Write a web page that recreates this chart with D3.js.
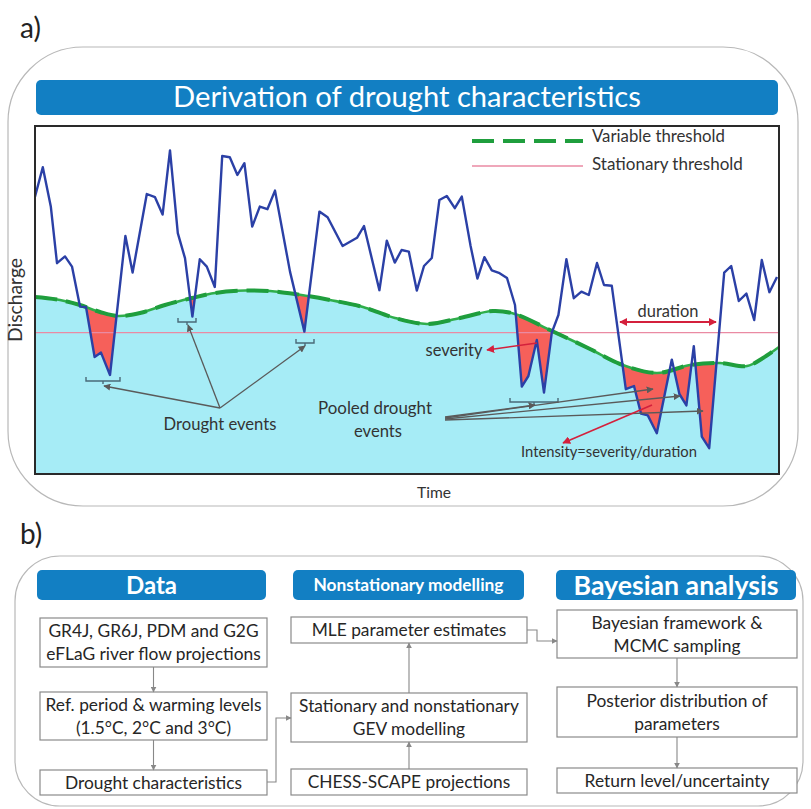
<!DOCTYPE html>
<html>
<head>
<meta charset="utf-8">
<script src="https://cdn.jsdelivr.net/npm/d3@7"></script>
<style>
  body { margin: 0; background: #fff; }
  svg { display: block; }
  text { font-family: Lato, "Open Sans", sans-serif; }
</style>
</head>
<body>
<svg id="fig" width="811" height="809"></svg>
<script>
// ---- Hydrograph (illustrative daily discharge) ----
const timeSteps = [0, 3.9, 7.9, 11, 15, 18.5, 22.5, 25.5, 29.8, 33, 37.5, 45.2, 48.8, 55.9, 60, 63.8, 67.5, 71.4, 75, 78.7,
  82.4, 85.9, 89.9, 93.6, 97.4, 101.2, 104.7, 108.6, 112.4, 116.2, 120, 127.5, 134.7, 142.2, 146.3, 153.8, 161, 164.5,
  172.2, 175.9, 179.9, 183.3, 186.9, 190.9, 194.5, 198.4, 202.2, 205.9, 209.9, 213.4, 217.8, 221.2, 224.7, 228.4, 232.3,
  236, 240, 243.4, 246.7, 250.9, 254.5, 258.4, 261.7, 265.7, 269.4, 273.2, 276.9, 281, 284.5, 288.4, 295.4, 299.5, 303,
  306.4, 310.9, 318.4, 322.2, 325.7, 329.4, 333.4, 337.1, 344.6, 348.1, 351.9, 355.7, 359.6, 363.4, 367.2, 371];
const discharge = [138.7, 153.4, 133.8, 105.4, 108.8, 103.7, 83.7, 83.5, 58.5, 60.7, 49.5, 119, 100.7, 140, 138.4, 129.7,
  161.8, 120.4, 107.9, 78.7, 107.4, 103.7, 93.5, 159, 158.4, 149.5, 155.4, 123.7, 133.7, 132.4, 141.7, 101.2, 71.2, 131.2,
  128.4, 114, 118.1, 124, 91.9, 116.7, 105.7, 112, 111.2, 91.7, 104, 108, 137, 139, 132.9, 138.7, 114, 97.7, 108.4, 101.8,
  100.4, 98, 84.5, 43.7, 49, 67, 40.7, 70.7, 79.5, 107.4, 87.9, 91.2, 89.5, 105.5, 94.5, 94.1, 42.4, 44, 30.2, 29.3, 20.4,
  57.2, 40, 34.3, 63.9, 18.7, 12.9, 100.7, 104, 86.5, 90.2, 77, 107, 90.9, 98.5];

// Seasonally varying threshold
const thresholdTime = [0, 12.5, 22.5, 32.5, 41.5, 52.5, 65, 78.5, 90, 105, 117.5, 130, 147.5, 164, 180, 196, 212.5,
  229, 240, 258.5, 277.5, 292.5, 311, 327.5, 342.5, 356, 364, 372];
const thresholdValue = [88.5, 87, 84.5, 81, 79, 80.5, 84.5, 88, 90.5, 91.75, 91.5, 90, 87, 83.5, 78, 75, 78,
  81.5, 80, 71.5, 62.5, 55, 50.5, 54.5, 55.5, 54, 58, 63.5];

// Fixed threshold
const stationaryThreshold = 70.7;

// Legend entries
const legendLabels = ["Variable threshold", "Stationary threshold"];

// ---- Workflow (panel b) ----
const columnTitles = ["Data", "Nonstationary modelling", "Bayesian analysis"];
const dataSteps = [["GR4J, GR6J, PDM and G2G", "eFLaG river flow projections"],
                   ["Ref. period & warming levels", "(1.5°C, 2°C and 3°C)"],
                   ["Drought characteristics"]];
const modellingSteps = [["MLE parameter estimates"],
                        ["Stationary and nonstationary", "GEV modelling"],
                        ["CHESS-SCAPE projections"]];
const bayesSteps = [["Bayesian framework &", "MCMC sampling"],
                    ["Posterior distribution of", "parameters"],
                    ["Return level/uncertainty"]];

const svg = d3.select("#fig");
const ink = "#333";
const gray = "#5a5a5a";
const red = "#d4203c";
const blueBar = "#127fc3";

// scale text so that it spans a given width
function fit(sel, w) {
  sel.each(function () {
    const len = this.getComputedTextLength();
    const fs = parseFloat(this.getAttribute("font-size"));
    if (len > 0) this.setAttribute("font-size", (fs * w / len).toFixed(2));
  });
  return sel;
}
function label(g, x, y, txt, size, w, opts = {}) {
  const t = g.append("text")
    .attr("x", x).attr("y", y)
    .attr("font-size", size)
    .attr("text-anchor", opts.anchor || "middle")
    .attr("fill", opts.fill || ink)
    .attr("font-weight", opts.weight || "normal")
    .text(txt);
  if (opts.rotate) t.attr("transform", `rotate(${opts.rotate},${x},${y})`);
  if (w) fit(t, w);
  return t;
}

function draw() {
  svg.selectAll("*").remove();

  // markers
  const defs = svg.append("defs");
  function marker(id, color, size) {
    defs.append("marker").attr("id", id)
      .attr("viewBox", "0 0 10 10").attr("refX", 9).attr("refY", 5)
      .attr("markerWidth", size).attr("markerHeight", size)
      .attr("markerUnits", "userSpaceOnUse")
      .attr("orient", "auto-start-reverse")
      .append("path").attr("d", "M0,0 L10,5 L0,10 z").attr("fill", color);
  }
  marker("arrGray", gray, 7);
  marker("arrRed", red, 8);
  marker("arrFlow", "#888", 6);

  // ---------- panel labels and frames ----------
  label(svg, 20, 38, "a)", 28, null, { anchor: "start", fill: "#222" });
  label(svg, 20, 544, "b)", 28, null, { anchor: "start", fill: "#222" });

  svg.append("rect").attr("x", 8).attr("y", 47).attr("width", 790).attr("height", 459)
    .attr("rx", 75).attr("ry", 75).attr("fill", "none").attr("stroke", "#b8b8b8").attr("stroke-width", 1.2);
  svg.append("rect").attr("x", 15).attr("y", 556).attr("width", 788).attr("height", 250)
    .attr("rx", 45).attr("ry", 45).attr("fill", "none").attr("stroke", "#b8b8b8").attr("stroke-width", 1.2);

  // title bar
  svg.append("rect").attr("x", 36).attr("y", 80).attr("width", 742).attr("height", 35)
    .attr("rx", 5).attr("fill", blueBar);
  label(svg, 407, 107, "Derivation of drought characteristics", 28, 468, { fill: "#fff" });

  // ---------- hydrograph ----------
  const x = d3.scaleLinear().domain([0, 372]).range([35, 779]);
  const y = d3.scaleLinear().domain([0, 174]).range([474, 126]);

  const flow = timeSteps.map((t, i) => ({ t, q: discharge[i] }));
  const thr = thresholdTime.map((t, i) => ({ t, q: thresholdValue[i] }));

  const plot = svg.append("g");
  defs.append("clipPath").attr("id", "plotClip")
    .append("rect").attr("x", x(0)).attr("y", y(174)).attr("width", x(372) - x(0)).attr("height", y(0) - y(174));
  const inner = plot.append("g").attr("clip-path", "url(#plotClip)");

  const belowThr = d3.area().x(d => x(d.t)).y0(y(0)).y1(d => y(d.q)).curve(d3.curveCatmullRom);
  defs.append("clipPath").attr("id", "belowThr").append("path").attr("d", belowThr(thr));

  // region under the threshold
  inner.append("path").attr("d", belowThr(thr)).attr("fill", "#a6ecf6");

  // deficit volume: below threshold and above flow
  const aboveFlow = d3.area().x(d => x(d.t)).y0(y(174)).y1(d => y(d.q));
  inner.append("path").attr("d", aboveFlow(flow)).attr("fill", "#f6605a").attr("clip-path", "url(#belowThr)");

  // stationary threshold
  inner.append("line").attr("x1", x(0)).attr("x2", x(372))
    .attr("y1", y(stationaryThreshold)).attr("y2", y(stationaryThreshold))
    .attr("stroke", "#ea8aa3").attr("stroke-width", 1.3);

  // variable threshold
  const thrLine = d3.line().x(d => x(d.t)).y(d => y(d.q)).curve(d3.curveCatmullRom);
  inner.append("path").attr("d", thrLine(thr)).attr("fill", "none")
    .attr("stroke", "#2fae4b").attr("stroke-width", 2.6);
  inner.append("path").attr("d", thrLine(thr)).attr("fill", "none")
    .attr("stroke", "#1f9e3d").attr("stroke-width", 4).attr("stroke-dasharray", "22 9");

  // discharge
  inner.append("path").attr("d", d3.line().x(d => x(d.t)).y(d => y(d.q))(flow))
    .attr("fill", "none").attr("stroke", "#2b40a6").attr("stroke-width", 2.4).attr("stroke-linejoin", "round");

  // plot frame
  plot.append("rect").attr("x", x(0)).attr("y", y(174)).attr("width", x(372) - x(0)).attr("height", y(0) - y(174))
    .attr("fill", "none").attr("stroke", "#2a2a2a").attr("stroke-width", 2);

  // ---------- annotations ----------
  const ann = svg.append("g");
  function bracket(t0, t1, q) {
    const ya = y(q);
    ann.append("path")
      .attr("d", `M${x(t0)},${ya - 4}V${ya}H${x(t1)}V${ya - 4}M${(x(t0) + x(t1)) / 2},${ya}v3`)
      .attr("fill", "none").attr("stroke", "#4a6a78").attr("stroke-width", 1.4);
  }
  function arrow(from, to, color, mk, w) {
    ann.append("line").attr("x1", x(from[0])).attr("y1", y(from[1]))
      .attr("x2", x(to[0])).attr("y2", y(to[1]))
      .attr("stroke", color).attr("stroke-width", w).attr("marker-end", `url(#${mk})`);
  }
  bracket(25.5, 42.5, 46.5);
  bracket(71.5, 80.5, 76);
  bracket(130.5, 139.5, 65.5);
  bracket(237.5, 261.5, 36);

  arrow([92.5, 33], [34.5, 44], gray, "arrGray", 1.3);
  arrow([92.5, 33], [76.5, 74.5], gray, "arrGray", 1.3);
  arrow([92.5, 33], [135, 64], gray, "arrGray", 1.3);

  arrow([205, 28.5], [250, 34.5], gray, "arrGray", 1.3);
  arrow([205, 28], [309, 42.5], gray, "arrGray", 1.3);
  arrow([205, 27.5], [322.5, 39], gray, "arrGray", 1.3);
  arrow([205, 27], [334, 31.5], gray, "arrGray", 1.3);

  arrow([251, 65.5], [226, 62], red, "arrRed", 1.6);
  arrow([308.5, 34.5], [264, 15.5], red, "arrRed", 1.6);
  ann.append("line").attr("x1", x(292.5)).attr("x2", x(340.5)).attr("y1", y(76)).attr("y2", y(76))
    .attr("stroke", red).attr("stroke-width", 2)
    .attr("marker-start", "url(#arrRed)").attr("marker-end", "url(#arrRed)");

  label(ann, 220, 430, "Drought events", 16, 113);
  label(ann, 375, 414, "Pooled drought", 16, 114);
  label(ann, 378, 437, "events", 16, 48);
  label(ann, 454, 356, "severity", 16, 57);
  label(ann, 668, 317, "duration", 16, 61);
  label(ann, 609, 457, "Intensity=severity/duration", 13, 176);

  // legend
  ann.append("line").attr("x1", 472).attr("x2", 583).attr("y1", 141).attr("y2", 141)
    .attr("stroke", "#1f9e3d").attr("stroke-width", 4).attr("stroke-dasharray", "22 9");
  ann.append("line").attr("x1", 472).attr("x2", 583).attr("y1", 166).attr("y2", 166)
    .attr("stroke", "#ea8aa3").attr("stroke-width", 1.3);
  label(ann, 592, 142, legendLabels[0], 16, 133, { anchor: "start" });
  label(ann, 592, 170, legendLabels[1], 16, 151, { anchor: "start" });

  // axis titles
  label(svg, 434, 498, "Time", 15, 34);
  label(svg, 22, 300, "Discharge", 15, 84, { rotate: -90 });

  // ---------- workflow ----------
  const flowG = svg.append("g");
  // one common size for all step texts, taken from a first-column line
  const probe = label(flowG, 0, -50, dataSteps[1][0], 17, 216);
  const stepSize = parseFloat(probe.attr("font-size"));
  probe.remove();

  const columns = [
    { title: columnTitles[0], head: [37, 266], box: [40, 267], hs: 24, tw: null, steps: dataSteps,
      ys: [[618, 667], [692, 740], [770, 795]] },
    { title: columnTitles[1], head: [293, 524], box: [291, 527], hs: 17, tw: 190, steps: modellingSteps,
      ys: [[617, 643], [693, 742], [769, 795]] },
    { title: columnTitles[2], head: [556, 796], box: [557, 797], hs: 24, tw: 205, steps: bayesSteps,
      ys: [[610, 658], [687, 737], [768, 793]] }
  ];
  columns.forEach(c => {
    flowG.append("rect").attr("x", c.head[0]).attr("y", 570).attr("width", c.head[1] - c.head[0]).attr("height", 30)
      .attr("rx", 5).attr("fill", blueBar);
    const t = label(flowG, (c.head[0] + c.head[1]) / 2, 0, c.title, c.hs, c.tw, { fill: "#fff", weight: "bold" });
    t.attr("y", 585 + parseFloat(t.attr("font-size")) * 0.36);
    c.steps.forEach((lines, i) => {
      const [y0, y1] = c.ys[i];
      flowG.append("rect").attr("x", c.box[0]).attr("y", y0).attr("width", c.box[1] - c.box[0]).attr("height", y1 - y0)
        .attr("fill", "#fff").attr("stroke", "#8a8a8a").attr("stroke-width", 1.2);
      const cx = (c.box[0] + c.box[1]) / 2, cy = (y0 + y1) / 2;
      lines.forEach((ln, k) => {
        const off = lines.length === 1 ? 0 : (k === 0 ? -11.5 : 11.5);
        label(flowG, cx, cy + off + 6, ln, stepSize, null, { fill: "#262626" });
      });
    });
  });
  function flowArrow(d) {
    flowG.append("path").attr("d", d).attr("fill", "none").attr("stroke", "#888").attr("stroke-width", 1.1)
      .attr("marker-end", "url(#arrFlow)");
  }
  // data column (downwards)
  flowArrow("M153.5,667V692");
  flowArrow("M153.5,740V770");
  // data -> modelling
  flowArrow("M267,782H276V718H291");
  // modelling column (upwards)
  flowArrow("M409,693V643");
  flowArrow("M409,769V742");
  // modelling -> bayesian
  flowArrow("M527,630H537V641H557");
  // bayesian column (downwards)
  flowArrow("M677,658V687");
  flowArrow("M677,737V768");
}

// draw once, then again after the fonts are ready so text widths are measured with the final face
draw();
Promise.all([document.fonts.load("16px Lato"), document.fonts.load("bold 16px Lato")])
  .then(() => document.fonts.ready)
  .then(draw);
</script>
</body>
</html>
